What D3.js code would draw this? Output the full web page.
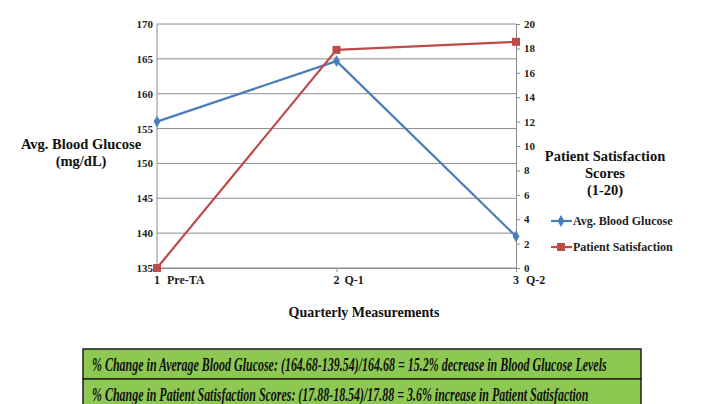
<!DOCTYPE html>
<html><head><meta charset="utf-8">
<script src="https://cdn.jsdelivr.net/npm/d3@7"></script>
<style>body{margin:0;background:#fff}svg{display:block}</style>
</head><body>
<svg id="c" width="720" height="404"></svg>
<script>
const quarters = [1, 2, 3];
const quarterLabels = ["Pre-TA", "Q-1", "Q-2"];
const glucose = [156.0, 164.68, 139.54];
const satisfaction = [0, 17.88, 18.54];
const leftTicks = [135, 140, 145, 150, 155, 160, 165, 170];
const rightTicks = [0, 2, 4, 6, 8, 10, 12, 14, 16, 18, 20];
const seriesNames = ["Avg. Blood Glucose", "Patient Satisfaction"];
const notes = [
  "% Change in Average Blood Glucose: (164.68-139.54)/164.68 = 15.2% decrease in Blood Glucose Levels",
  "% Change in Patient Satisfaction Scores: (17.88-18.54)/17.88 = 3.6% increase in Patient Satisfaction"
];

const svg = d3.select("#c");
const L = 157, R = 516, T = 24, B = 268;
const x = d3.scaleLinear().domain([1, 3]).range([L, R]);
const yL = d3.scaleLinear().domain([135, 170]).range([B, T]);
const yR = d3.scaleLinear().domain([0, 20]).range([B, T]);
const font = "'Liberation Serif', 'Times New Roman', serif";
const blue = "#4A7EBB", red = "#BE4B48", gridC = "#8c8c8c";

svg.append("g").selectAll("line").data(leftTicks).join("line")
  .attr("x1", L).attr("x2", R).attr("y1", d => yL(d)).attr("y2", d => yL(d))
  .attr("stroke", gridC).attr("stroke-width", 1);
svg.append("line").attr("x1", L).attr("x2", L).attr("y1", T).attr("y2", B).attr("stroke", gridC);

const gl = svg.append("g").attr("transform", `translate(${L},0)`)
  .call(d3.axisLeft(yL).tickValues(leftTicks).tickSize(0).tickPadding(4));
gl.select(".domain").remove();
gl.selectAll("text").style("font-family", font).attr("font-weight", "bold").attr("font-size", 11).attr("fill", "#222");

const gr = svg.append("g").attr("transform", `translate(${R},0)`)
  .call(d3.axisRight(yR).tickValues(rightTicks).tickSize(4).tickPadding(4));
gr.select(".domain").attr("stroke", gridC);
gr.selectAll("line").attr("stroke", gridC);
gr.selectAll("text").style("font-family", font).attr("font-weight", "bold").attr("font-size", 11).attr("fill", "#222");

const gb = svg.append("g").attr("transform", `translate(0,${B})`)
  .call(d3.axisBottom(x).tickValues(quarters).tickSize(4).tickFormat(""));
gb.select(".domain").attr("stroke", gridC);
gb.selectAll("line").attr("stroke", gridC);
const xl = svg.append("g");
xl.selectAll("text.n").data(quarters).join("text").attr("class", "n")
  .attr("x", d => x(d)).attr("y", 284).attr("text-anchor", "middle")
  .style("font-family", font).attr("font-weight", "bold").attr("font-size", 12).attr("fill", "#222")
  .text(d => d);
xl.selectAll("text.l").data(quarters).join("text").attr("class", "l")
  .attr("x", (d, i) => x(d) + (i === 0 ? 10 : (i === 1 ? 8 : 10))).attr("y", 284)
  .style("font-family", font).attr("font-weight", "bold").attr("font-size", 12).attr("fill", "#222")
  .text((d, i) => quarterLabels[i]);

const lineL = d3.line().x((d, i) => x(quarters[i])).y(d => yL(d));
const lineR = d3.line().x((d, i) => x(quarters[i])).y(d => yR(d));
svg.append("path").datum(glucose).attr("d", lineL).attr("fill", "none").attr("stroke", blue).attr("stroke-width", 2.2);
svg.append("path").datum(satisfaction).attr("d", lineR).attr("fill", "none").attr("stroke", red).attr("stroke-width", 2.2);
const diamond = d3.symbol().type(d3.symbolDiamond).size(40);
svg.selectAll("path.gm").data(glucose).join("path").attr("class", "gm")
  .attr("d", diamond).attr("transform", (d, i) => `translate(${x(quarters[i])},${yL(d)})`).attr("fill", blue);
svg.selectAll("rect.sm").data(satisfaction).join("rect").attr("class", "sm")
  .attr("x", (d, i) => x(quarters[i]) - 4).attr("y", d => yR(d) - 4)
  .attr("width", 8).attr("height", 8).attr("fill", red);

const tstyle = s => s.style("font-family", font).attr("font-weight", "bold").attr("fill", "#111");
svg.append("text").attr("x", 81).attr("y", 149).attr("text-anchor", "middle").attr("font-size", 14.5).call(tstyle).text("Avg. Blood Glucose");
svg.append("text").attr("x", 81).attr("y", 166).attr("text-anchor", "middle").attr("font-size", 14.5).call(tstyle).text("(mg/dL)");
["Patient Satisfaction", "Scores", "(1-20)"].forEach((t, i) =>
  svg.append("text").attr("x", 605).attr("y", 161 + i * 17).attr("text-anchor", "middle").attr("font-size", 14.5).call(tstyle).text(t));
svg.append("text").attr("x", 364).attr("y", 317).attr("text-anchor", "middle").attr("font-size", 14).call(tstyle).text("Quarterly Measurements");

const lg = svg.append("g");
seriesNames.forEach((n, i) => {
  const yy = 221 + i * 26, c = i === 0 ? blue : red;
  lg.append("line").attr("x1", 551).attr("x2", 572).attr("y1", yy).attr("y2", yy).attr("stroke", c).attr("stroke-width", 2.2);
  if (i === 0) lg.append("path").attr("d", diamond).attr("transform", `translate(561,${yy})`).attr("fill", c);
  else lg.append("rect").attr("x", 557).attr("y", yy - 4).attr("width", 8).attr("height", 8).attr("fill", c);
  lg.append("text").attr("x", 573).attr("y", yy + 4).style("font-family", font).attr("font-weight", "bold")
    .attr("font-size", 12).attr("fill", "#222").text(n);
});

const nb = svg.append("g");
const targetW = [515, 497];
notes.forEach((t, i) => {
  const y0 = 349 + i * 30;
  nb.append("rect").attr("x", 83).attr("y", y0).attr("width", 558).attr("height", 30)
    .attr("fill", "#8DC853").attr("stroke", "#222").attr("stroke-width", 1.5);
  const tx = nb.append("text").attr("x", 0).attr("y", 0).style("font-family", font)
    .attr("font-style", "italic").attr("font-weight", "bold").attr("font-size", 18).attr("fill", "#111").text(t);
  const w = tx.node().getComputedTextLength();
  tx.attr("transform", `translate(92,${y0 + 22}) scale(${targetW[i] / w},1.05)`);
});
</script>
</body></html>
